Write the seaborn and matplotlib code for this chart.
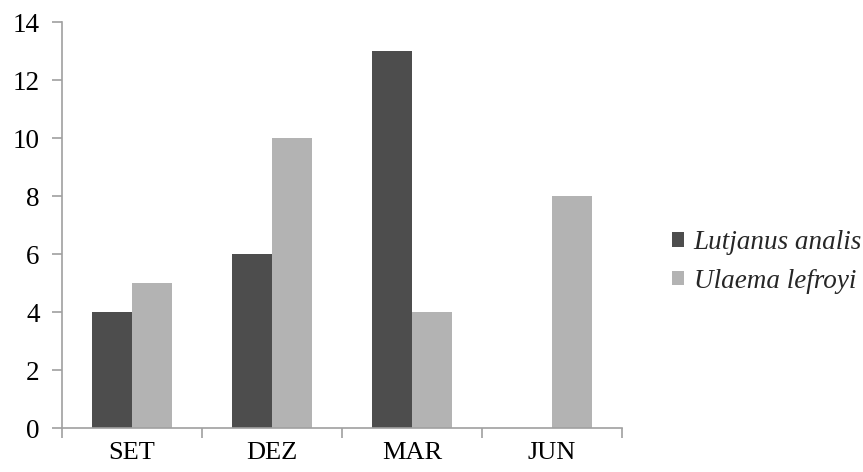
import matplotlib
matplotlib.use("Agg")
import matplotlib.pyplot as plt
import seaborn as sns
import pandas as pd

months = ["SET", "DEZ", "MAR", "JUN"]
species = ["Lutjanus analis", "Ulaema lefroyi"]
lutjanus = [4, 6, 13, 0]
ulaema = [5, 10, 4, 8]
yticks = [0, 2, 4, 6, 8, 10, 12, 14]

df = pd.DataFrame({
    "mes": months * 2,
    "especie": [species[0]] * 4 + [species[1]] * 4,
    "n": lutjanus + ulaema,
})

sns.set_theme(style="white")
plt.rcParams["font.family"] = ["Liberation Serif", "DejaVu Serif"]

fig = plt.figure(figsize=(8.63, 4.72), dpi=100)
ax = fig.add_axes([62 / 863, 1 - 428 / 472, 560 / 863, 406 / 472])

sns.barplot(data=df, x="mes", y="n", hue="especie", order=months,
            hue_order=species, palette=["#4d4d4d", "#b3b3b3"],
            width=0.57, saturation=1, linewidth=0, ax=ax, legend=True)

ax.set_xlim(-0.5, 3.5)
ax.set_ylim(0, 14)
ax.set_yticks(yticks)
ax.set_yticklabels([str(v) for v in yticks], fontsize=19.5, color="black")
ax.set_xlabel("")
ax.set_ylabel("")

# category separators as major ticks, labels on minor ticks
ax.set_xticks([-0.5, 0.5, 1.5, 2.5, 3.5])
ax.set_xticklabels([])
ax.set_xticks([0, 1, 2, 3], minor=True)
ax.set_xticklabels(months, minor=True, fontsize=19, color="black")
ax.tick_params(axis="x", which="major", direction="out", length=7,
               color="#a0a0a0", width=1.2, bottom=True)
ax.tick_params(axis="x", which="minor", length=0, pad=10)
ax.tick_params(axis="y", direction="out", length=7, color="#a0a0a0",
               width=1.2, left=True, pad=9)

for side in ["top", "right"]:
    ax.spines[side].set_visible(False)
for side in ["left", "bottom"]:
    ax.spines[side].set_color("#a0a0a0")
    ax.spines[side].set_linewidth(1.2)

handles, labels = ax.get_legend_handles_labels()
ax.legend(handles, labels, loc="center left",
          bbox_to_anchor=(672 / 863, 1 - 262 / 472),
          bbox_transform=fig.transFigure, frameon=False,
          prop={"family": ["Liberation Serif"], "style": "italic", "size": 19.5},
          handlelength=0.45, handleheight=0.45, handletextpad=0.35,
          labelspacing=0.5, borderaxespad=0, borderpad=0)

fig.savefig("out.png", dpi=100)
